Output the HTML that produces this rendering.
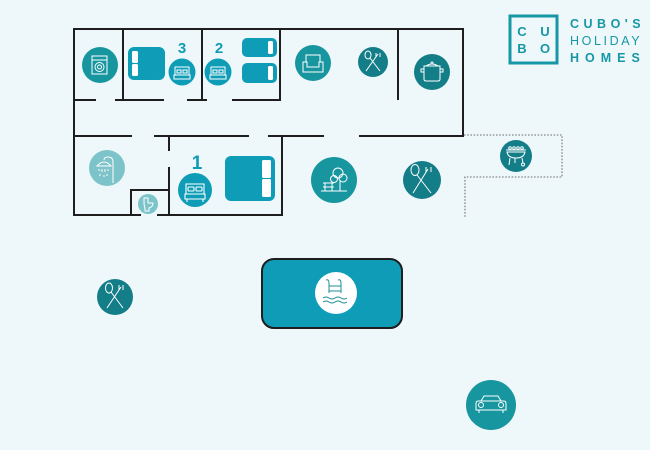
<!DOCTYPE html>
<html><head><meta charset="utf-8"><style>
html,body{margin:0;padding:0;background:#eef8fa;}
svg{display:block;}
</style></head><body>
<svg width="650" height="450" viewBox="0 0 650 450" xmlns="http://www.w3.org/2000/svg">
<rect width="650" height="450" fill="#eef8fa"/>

<!-- walls -->
<g stroke="#1e1e1e" stroke-width="2" fill="none" stroke-linecap="square">
<path d="M74,29 H463 V135"/>
<path d="M74,29 V215"/>
<path d="M123,29 V100 M202,29 V100 M280,29 V100 M398,29 V99"/>
<path d="M74,100 H95 M116,100 H163 M188,100 H206 M233,100 H280"/>
<path d="M74,136 H131 M155,136 H248 M269,136 H323 M360,136 H463"/>
<path d="M169,136 V150 M169,168 V215"/>
<path d="M282,136 V215"/>
<path d="M74,215 H140 M158,215 H282"/>
<path d="M131,190 V215 M131,190 H169"/>
</g>

<!-- dotted terrace -->
<path d="M464,135 H562 V177 H465 V218" fill="none" stroke="#9a9a9a" stroke-width="1.6" stroke-dasharray="1.6 1.6"/>

<!-- washing machine -->
<circle cx="100" cy="65" r="18" fill="#17969f"/>
<g stroke="#fff" stroke-width="1" fill="none">
<rect x="92" y="56" width="15" height="18"/>
<line x1="92" y1="60" x2="107" y2="60"/>
<circle cx="99.5" cy="67" r="4.5"/><circle cx="99.5" cy="67" r="2"/>
</g>

<!-- bed 3 large -->
<rect x="128" y="47" width="37" height="33" rx="6" fill="#0e9cb6"/>
<rect x="132" y="51" width="6" height="12" rx="1.5" fill="#fff"/>
<rect x="132" y="64" width="6" height="12" rx="1.5" fill="#fff"/>
<text x="182" y="53" font-family="Liberation Sans, sans-serif" font-weight="bold" font-size="15" fill="#0e9cb6" text-anchor="middle">3</text>
<circle cx="182" cy="72" r="13.5" fill="#0e9cb6"/>
<g stroke="#fff" stroke-width="1" fill="none">
<path d="M175,75 V67 H189 V75 M174,75 H190 V79 H174 Z"/>
<rect x="177" y="70" width="4" height="3"/><rect x="183" y="70" width="4" height="3"/>
</g>

<!-- bedroom 2 -->
<text x="219" y="53" font-family="Liberation Sans, sans-serif" font-weight="bold" font-size="15" fill="#0e9cb6" text-anchor="middle">2</text>
<circle cx="218" cy="72" r="13.5" fill="#0e9cb6"/>
<g stroke="#fff" stroke-width="1" fill="none">
<path d="M211,75 V67 H225 V75 M210,75 H226 V79 H210 Z"/>
<rect x="213" y="70" width="4" height="3"/><rect x="219" y="70" width="4" height="3"/>
</g>
<rect x="242" y="38" width="35" height="19" rx="5" fill="#0e9cb6"/>
<rect x="268" y="41" width="5" height="13" rx="1.5" fill="#fff"/>
<rect x="242" y="63" width="35" height="20" rx="5" fill="#0e9cb6"/>
<rect x="268" y="66" width="5" height="14" rx="1.5" fill="#fff"/>

<!-- sofa -->
<circle cx="313" cy="63" r="18" fill="#17969f"/>
<g stroke="#fff" stroke-width="1" fill="none">
<path d="M306,62 V55 H320 V62"/>
<path d="M303,62 H307 V67 H319 V62 H323 V72 H303 Z"/>
</g>

<!-- cutlery top -->
<circle cx="373" cy="62" r="15" fill="#137d88"/>
<g stroke="#fff" stroke-width="1" fill="none">
<ellipse cx="368" cy="55" rx="3" ry="4"/>
<path d="M370,58 L380,71 M378,54 L366,71 M376,53 V57 M380,53 V57"/>
</g>

<!-- pot -->
<circle cx="432" cy="72" r="18" fill="#137d88"/>
<g stroke="#fff" stroke-width="1" fill="none">
<path d="M424,66 H440 V79 Q440,81 438,81 H426 Q424,81 424,79 Z"/>
<path d="M424,69 H421 V72 H424 M440,69 H443 V72 H440"/>
<path d="M426,66 Q432,62 438,66"/><circle cx="432" cy="63" r="1"/>
</g>

<!-- shower -->
<circle cx="107" cy="168" r="18" fill="#7cc3ca"/>
<g stroke="#fff" stroke-width="1" fill="none">
<path d="M113,183 V162 Q113,157 108,157 Q104,157 104,160"/>
<path d="M97,166 Q104,158 111,166 Z"/>
<path d="M99,169 v2 M102,169 v3 M105,169 v3 M108,169 v2 M100,174 v2 M104,175 v2 M107,174 v2"/>
</g>

<!-- toilet -->
<circle cx="148" cy="204" r="10" fill="#7cc3ca"/>
<g stroke="#fff" stroke-width="1" fill="none">
<path d="M144,198 H148 V203 H153 Q153,207 149,208 V211 H145 V208 Q144,205 144,203 Z"/>
</g>

<!-- bedroom 1 -->
<text x="197" y="169" font-family="Liberation Sans, sans-serif" font-weight="bold" font-size="19" fill="#0e9cb6" text-anchor="middle">1</text>
<circle cx="195" cy="190" r="17" fill="#0e9cb6"/>
<g stroke="#fff" stroke-width="1.1" fill="none">
<path d="M186,194 V184 H204 V194 M185,194 H205 V199 H185 Z M187,199 V202 M203,199 V202"/>
<rect x="188" y="187" width="6" height="4" rx="1"/><rect x="196" y="187" width="6" height="4" rx="1"/>
</g>
<rect x="225" y="156" width="50" height="45" rx="6" fill="#0e9cb6"/>
<rect x="262" y="160" width="9" height="18" rx="1.5" fill="#fff"/>
<rect x="262" y="179" width="9" height="18" rx="1.5" fill="#fff"/>

<!-- garden -->
<circle cx="334" cy="180" r="23" fill="#17969f"/>
<g stroke="#fff" stroke-width="1" fill="none">
<circle cx="338" cy="173" r="5"/><circle cx="343" cy="178" r="4"/><circle cx="334" cy="179" r="3.5"/>
<path d="M340,180 V191"/>
<path d="M323,183 H334 M323,187 H334 M325,183 V191 M332,183 V191 M321,191 H347"/>
</g>

<!-- cutlery middle -->
<circle cx="422" cy="180" r="19" fill="#137d88"/>
<g stroke="#fff" stroke-width="1" fill="none">
<ellipse cx="415" cy="170" rx="4" ry="5.5"/>
<path d="M417,175 L431,193 M428,169 L413,193 M426,167 V172 M431,167 V172"/>
</g>

<!-- bbq -->
<circle cx="516" cy="156" r="16" fill="#137d88"/>
<g stroke="#fff" stroke-width="1" fill="none">
<path d="M506,150 H526"/>
<circle cx="510" cy="148" r="1.3"/><circle cx="514" cy="148" r="1.3"/><circle cx="518" cy="148" r="1.3"/><circle cx="522" cy="148" r="1.3"/>
<path d="M507,152 H525 Q524,158 516,158 Q508,158 507,152 Z"/>
<path d="M510,158 L509,165 M522,158 L523,163 M515,158 V163"/>
<circle cx="523" cy="164.5" r="1.5"/>
</g>

<!-- pool -->
<rect x="262" y="259" width="140" height="69" rx="12" fill="#0e9cb6" stroke="#1e1e1e" stroke-width="2"/>
<circle cx="336" cy="293" r="21" fill="#fff"/>
<g stroke="#1b8f98" stroke-width="1" fill="none">
<path d="M329,293 V283 Q329,279 326,280 M341,293 V283 Q341,279 338,280"/>
<path d="M329,286 H341 M329,291 H341"/>
<path d="M323,298 q3,-2 6,0 t6,0 t6,0 t6,0"/>
<path d="M323,302 q3,-2 6,0 t6,0 t6,0 t6,0"/>
</g>

<!-- cutlery left -->
<circle cx="115" cy="297" r="18" fill="#137d88"/>
<g stroke="#fff" stroke-width="1" fill="none">
<ellipse cx="109" cy="288" rx="3.5" ry="5"/>
<path d="M111,292 L123,308 M121,287 L107,308 M119,285 V290 M123,285 V290"/>
</g>

<!-- car -->
<circle cx="491" cy="405" r="25" fill="#17969f"/>
<g stroke="#fff" stroke-width="1" fill="none">
<path d="M481,401 L484,396 H498 L501,401"/>
<path d="M478,401 H504 Q506,401 506,404 V410 H476 V404 Q476,401 478,401 Z"/>
<circle cx="481" cy="405" r="2.5"/><circle cx="501" cy="405" r="2.5"/>
<path d="M479,410 V413 M503,410 V413"/>
</g>

<!-- logo -->
<rect x="510" y="16" width="47" height="47" fill="none" stroke="#1797a6" stroke-width="3"/>
<g font-family="Liberation Sans, sans-serif" font-weight="bold" font-size="13" fill="#1797a6" text-anchor="middle">
<text x="522" y="36">C</text><text x="545" y="36">U</text>
<text x="522" y="53">B</text><text x="545" y="53">O</text>
</g>
<g font-family="Liberation Sans, sans-serif" font-size="12.5" fill="#1797a6">
<text x="570" y="28" font-weight="bold" letter-spacing="4.5">CUBO'S</text>
<text x="570" y="45" letter-spacing="2.6">HOLIDAY</text>
<text x="570" y="62" font-weight="bold" letter-spacing="6">HOMES</text>
</g>
</svg>
</body></html>
